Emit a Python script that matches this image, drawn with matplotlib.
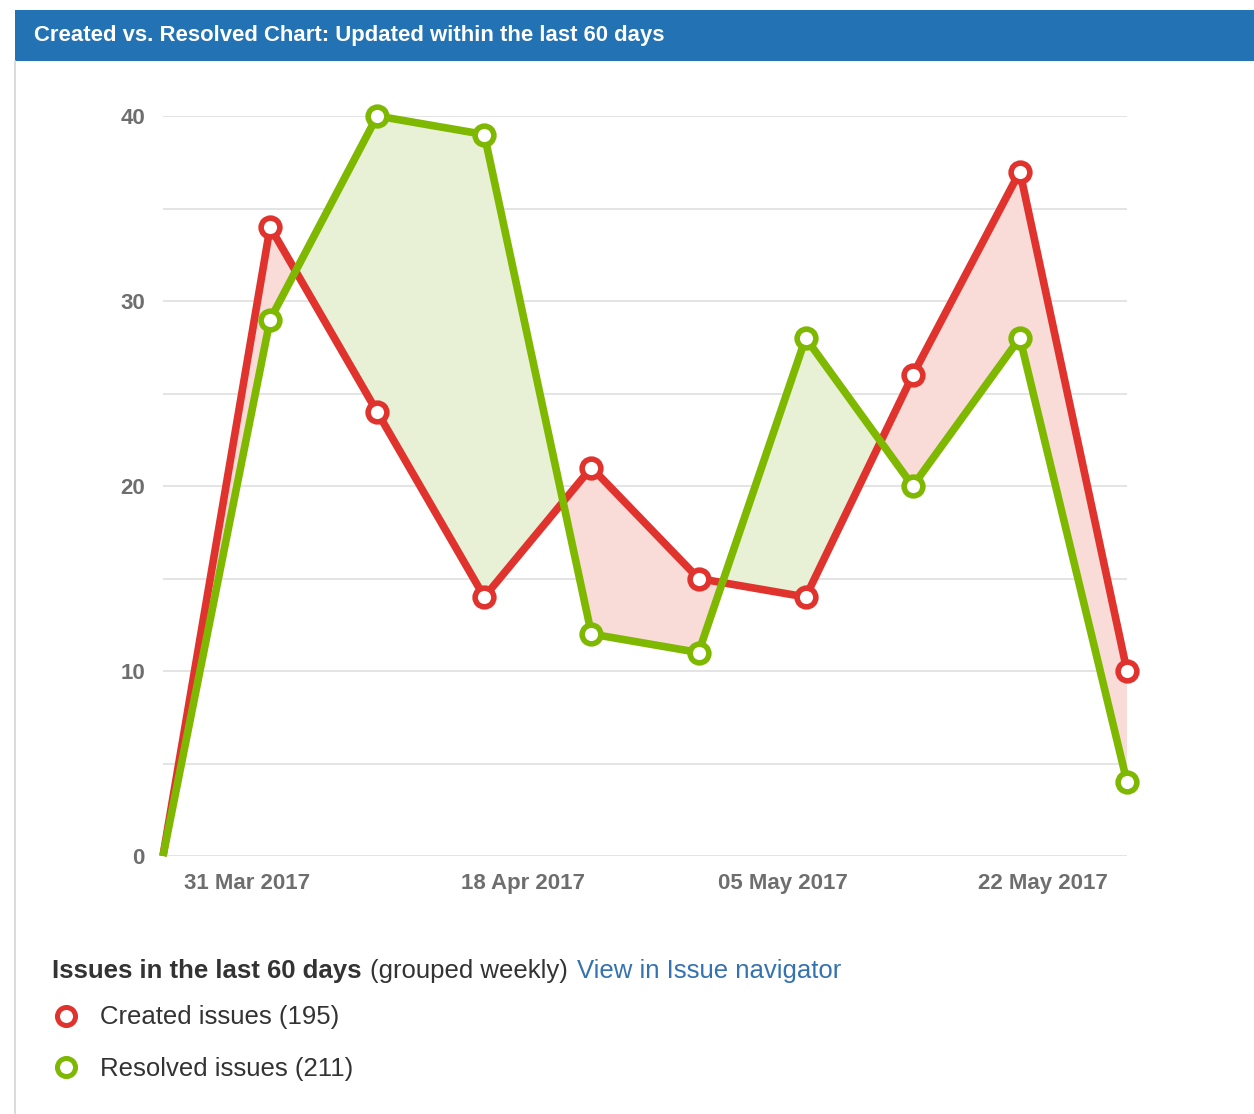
import matplotlib.pyplot as plt
import pandas as pd
from matplotlib.patches import Rectangle
from matplotlib.lines import Line2D

plt.rcParams["font.family"] = ["Liberation Sans", "DejaVu Sans"]

# weekly buckets (JIRA created vs resolved)
week_dates = ["2017-03-25 12:00", "2017-04-01 12:00", "2017-04-08 12:00", "2017-04-15 12:00",
              "2017-04-22 12:00", "2017-04-29 12:00", "2017-05-06 12:00", "2017-05-13 12:00",
              "2017-05-20 12:00", "2017-05-27 12:00"]
created = [0, 34, 24, 14, 21, 15, 14, 26, 37, 10]
resolved = [0, 29, 40, 39, 12, 11, 28, 20, 28, 4]

tick_dates = ["2017-03-31", "2017-04-18", "2017-05-05", "2017-05-22"]
tick_labels = ["31 Mar 2017", "18 Apr 2017", "05 May 2017", "22 May 2017"]
y_ticks = [0, 10, 20, 30, 40]

title = "Created vs. Resolved Chart: Updated within the last 60 days"
created_label = "Created issues (%d)" % sum(created)
resolved_label = "Resolved issues (%d)" % sum(resolved)

RED = "#e0332e"
GREEN = "#7fb800"
RED_FILL = "#f9dcd8"
GREEN_FILL = "#e8f0d5"
TICK_GREY = "#6e6e6e"

W, H = 1254, 1114
fig = plt.figure(figsize=(W / 100, H / 100), dpi=100)


def px(x, y):
    # pixel coords (top-left origin) -> figure fraction
    return x / W, 1 - y / H


# widget frame + header bar
fig.patches.append(Rectangle(px(15, 61), (W - 15) / W, 51 / H, transform=fig.transFigure,
                             facecolor="#2372b4", edgecolor="none"))
fig.add_artist(Line2D([15 / W, 15 / W], [0, 1 - 61 / H], transform=fig.transFigure,
                      color="#d4d4d4", lw=1.2))
fig.text(*px(34, 36), title, color="white", fontsize=15.9, fontweight="bold", va="center")

x = pd.to_datetime(week_dates)
ax = fig.add_axes([163 / W, (H - 856) / H, (1127 - 163) / W, (856 - 116) / H])

ax.fill_between(x, created, resolved, where=[c >= r for c, r in zip(created, resolved)],
                interpolate=True, color=RED_FILL, lw=0, zorder=1)
ax.fill_between(x, created, resolved, where=[r >= c for c, r in zip(created, resolved)],
                interpolate=True, color=GREEN_FILL, lw=0, zorder=1)

ax.plot(x, created, color=RED, lw=5.5, solid_joinstyle="round", solid_capstyle="butt",
        zorder=3, clip_on=False)
ax.plot(x, resolved, color=GREEN, lw=5.5, solid_joinstyle="round", solid_capstyle="butt",
        zorder=4, clip_on=False)
ax.plot(x[1:], created[1:], ls="none", marker="o", ms=13.5, mfc="white", mec=RED, mew=4.0,
        zorder=5, clip_on=False)
ax.plot(x[1:], resolved[1:], ls="none", marker="o", ms=13.5, mfc="white", mec=GREEN, mew=4.0,
        zorder=6, clip_on=False)

ax.set_xlim(x[0], x[-1])
ax.set_ylim(0, 40)
ax.set_yticks(y_ticks)
ax.set_yticks([5, 15, 25, 35], minor=True)
ax.set_xticks(pd.to_datetime(tick_dates))
ax.set_xticklabels(tick_labels)
ax.grid(True, which="both", axis="y", color="#e4e4e4", lw=1.4, zorder=0)
ax.set_axisbelow(True)
for s in ax.spines.values():
    s.set_visible(False)
ax.tick_params(axis="both", which="both", length=0)
ax.tick_params(axis="y", pad=13, labelsize=16, labelcolor=TICK_GREY)
ax.tick_params(axis="x", pad=12, labelsize=16, labelcolor=TICK_GREY)
for lab in ax.get_xticklabels() + ax.get_yticklabels():
    lab.set_fontweight("bold")

# footer: caption and legend
fig.text(*px(52, 978), "Issues in the last 60 days", fontsize=18.5, fontweight="bold",
         color="#333333", va="baseline")
fig.text(*px(370, 978), "(grouped weekly)", fontsize=18.5, color="#333333", va="baseline")
fig.text(*px(577, 978), "View in Issue navigator", fontsize=18.5, color="#3572b0",
         va="baseline")

fig.add_artist(Line2D([66 / W], [1 - 1016 / H], transform=fig.transFigure, marker="o",
                      ms=13, mfc="white", mec=RED, mew=3.6))
fig.add_artist(Line2D([66 / W], [1 - 1067 / H], transform=fig.transFigure, marker="o",
                      ms=13, mfc="white", mec=GREEN, mew=3.6))
fig.text(*px(100, 1024), created_label, fontsize=18.5, color="#333333", va="baseline")
fig.text(*px(100, 1076), resolved_label, fontsize=18.5, color="#333333", va="baseline")

fig.savefig("out.png", dpi=100)
